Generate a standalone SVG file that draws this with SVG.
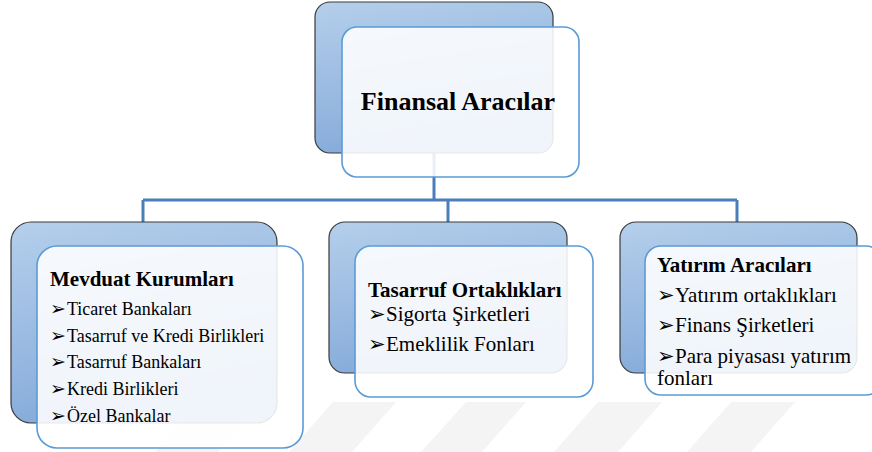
<svg xmlns="http://www.w3.org/2000/svg" width="872" height="452" viewBox="0 0 872 452">
<defs>
<linearGradient id="bg" x1="0" y1="0" x2="0.25" y2="1">
<stop offset="0" stop-color="#b5cfeb"/>
<stop offset="1" stop-color="#86abda"/>
</linearGradient>
<style>
.back{fill:url(#bg);stroke:#3a3a3a;stroke-width:1.2}
.front{fill:#ffffff;fill-opacity:0.88;stroke:#5b9bd5;stroke-width:1.6}
.conn{fill:none;stroke:#4a7ebb;stroke-width:3}
.wm{fill:#f4f4f4}
.h{font-family:'Liberation Serif',serif;font-weight:bold;font-size:21px;fill:#000}
.t{font-family:'Liberation Serif',serif;fill:#000}
.ar{font-family:'DejaVu Sans',sans-serif;fill:#000}
</style>
</defs>
<rect width="872" height="452" fill="#ffffff"/>
<g id="watermark">
<polygon class="wm" points="200,402 262,402 218,452 155,452"/>
<polygon class="wm" points="333,402 396,402 352,452 289,452"/>
<polygon class="wm" points="466,402 526,402 482,452 421,452"/>
<polygon class="wm" points="598,402 662,402 618,452 554,452"/>
<polygon class="wm" points="731,402 795,402 751,452 687,452"/>
</g>
<g id="connectors">
<path class="conn" d="M434,153 V200 M143,200 H737 M143,200 V222 M448,200 V222 M737,200 V222"/>
</g>
<g id="node-top">
<rect class="back" x="315" y="2" width="238" height="151" rx="15"/>
<rect class="front" x="342" y="27" width="237" height="150" rx="15"/>
<text class="t" x="458" y="110" font-size="26" font-weight="bold" text-anchor="middle">Finansal Aracılar</text>
</g>
<g id="node-mevduat">
<rect class="back" x="11" y="222" width="266" height="201" rx="20"/>
<rect class="front" x="37" y="246" width="266" height="202" rx="20"/>
<text class="h" x="50" y="286">Mevduat Kurumları</text>
<g class="ar" font-size="19">
<text x="50" y="315">➢</text>
<text x="50" y="342">➢</text>
<text x="50" y="368">➢</text>
<text x="50" y="395">➢</text>
<text x="50" y="422">➢</text>
</g>
<g class="t" font-size="18">
<text x="67" y="315">Ticaret Bankaları</text>
<text x="67" y="342">Tasarruf ve Kredi Birlikleri</text>
<text x="67" y="368">Tasarruf Bankaları</text>
<text x="67" y="395">Kredi Birlikleri</text>
<text x="67" y="422">Özel Bankalar</text>
</g>
</g>
<g id="node-tasarruf">
<rect class="back" x="329" y="222" width="238" height="151" rx="16"/>
<rect class="front" x="355" y="246" width="238" height="151" rx="16"/>
<text class="h" x="368" y="297">Tasarruf Ortaklıkları</text>
<g class="ar" font-size="21">
<text x="368" y="321">➢</text>
<text x="368" y="351">➢</text>
</g>
<g class="t" font-size="21">
<text x="386" y="321">Sigorta Şirketleri</text>
<text x="386" y="351">Emeklilik Fonları</text>
</g>
</g>
<g id="node-yatirim">
<rect class="back" x="620" y="222" width="237" height="151" rx="16"/>
<rect class="front" x="645" y="246" width="237" height="149" rx="16"/>
<text class="h" x="657" y="272">Yatırım Aracıları</text>
<g class="ar" font-size="21">
<text x="657" y="302">➢</text>
<text x="657" y="332">➢</text>
<text x="657" y="363">➢</text>
</g>
<g class="t" font-size="21">
<text x="675" y="302">Yatırım ortaklıkları</text>
<text x="675" y="332">Finans Şirketleri</text>
<text x="675" y="363">Para piyasası yatırım</text>
<text x="657" y="385">fonları</text>
</g>
</g>
</svg>
